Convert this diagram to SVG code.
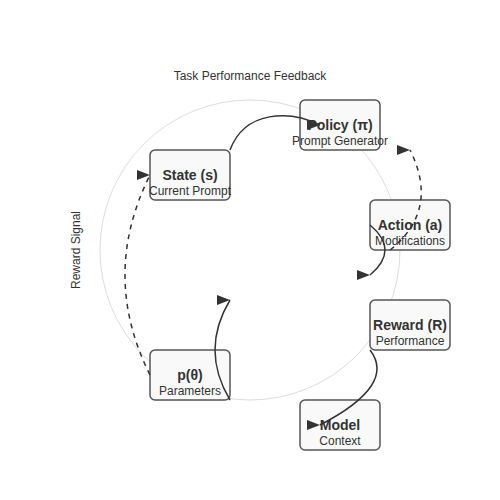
<svg xmlns="http://www.w3.org/2000/svg" width="500" height="500" viewBox="0 0 500 500">
<style>
.node rect{fill:#f9f9f9;stroke:#555;stroke-width:1.5}
.t{font-family:"Liberation Sans",Arial,sans-serif;font-size:14px;font-weight:bold;fill:#333;text-anchor:middle}
.s{font-family:"Liberation Sans",Arial,sans-serif;font-size:12px;fill:#333;text-anchor:middle}
.lbl{font-family:"Liberation Sans",Arial,sans-serif;font-size:12px;fill:#333;text-anchor:middle}
.e{fill:none;stroke:#333;stroke-width:1.5;marker-end:url(#arr)}
.d{stroke-dasharray:5,5}
</style>
<defs>
<marker id="arr" markerUnits="userSpaceOnUse" markerWidth="13" markerHeight="10" viewBox="0 0 13 10" refX="13" refY="5" orient="0">
<path d="M0,0 L13,5 L0,10 Z" fill="#333"/>
</marker>
</defs>
<rect width="500" height="500" fill="#fff"/>
<circle cx="250" cy="250" r="150" fill="none" stroke="#ddd" stroke-width="1"/>
<text class="lbl" x="250" y="80">Task Performance Feedback</text>
<text class="lbl" transform="translate(80,250) rotate(-90)">Reward Signal</text>
<g id="policy" class="node"><rect x="300" y="100" width="80" height="50" rx="5"/><text class="t" x="340" y="130">Policy (π)</text><text class="s" x="340" y="145">Prompt Generator</text></g>
<g id="state" class="node"><rect x="150" y="150" width="80" height="50" rx="5"/><text class="t" x="190" y="180">State (s)</text><text class="s" x="190" y="195">Current Prompt</text></g>
<g id="action" class="node"><rect x="370" y="200" width="80" height="50" rx="5"/><text class="t" x="410" y="230">Action (a)</text><text class="s" x="410" y="245">Modifications</text></g>
<g id="reward" class="node"><rect x="370" y="300" width="80" height="50" rx="5"/><text class="t" x="410" y="330">Reward (R)</text><text class="s" x="410" y="345">Performance</text></g>
<g id="model" class="node"><rect x="300" y="400" width="80" height="50" rx="5"/><text class="t" x="340" y="430">Model</text><text class="s" x="340" y="445">Context</text></g>
<g id="params" class="node"><rect x="150" y="350" width="80" height="50" rx="5"/><text class="t" x="190" y="380">p(θ)</text><text class="s" x="190" y="395">Parameters</text></g>
<g id="connectors">
<path class="e" d="M230,150 C245,110 290,110 320,125"/>
<path class="e d" d="M390,250 Q440,210 410,150"/>
<path class="e" d="M370,225 Q400,250 370,275"/>
<path class="e" d="M370,350 Q397,385 320,425"/>
<path class="e" d="M230,400 Q200,350 230,300"/>
<path class="e d" d="M150,375 Q100,275 150,175"/>
</g>
</svg>
